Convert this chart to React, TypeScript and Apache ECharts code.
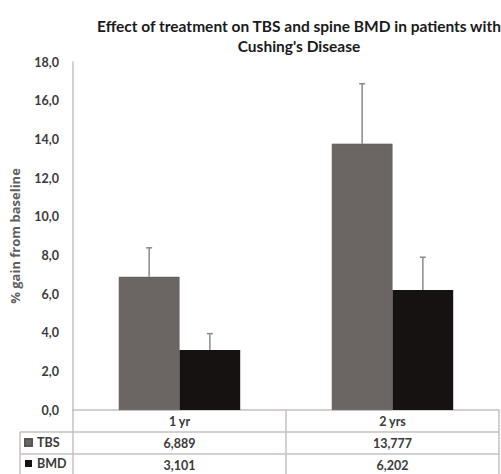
import React, { useEffect, useRef } from "react";
import * as echarts from "echarts";

const categories = ["1 yr", "2 yrs"];
const seriesNames = ["TBS", "BMD"];
const tbsValues = [6.889, 13.777];
const bmdValues = [3.101, 6.202];
const tbsErrors = [1.5, 3.1];
const bmdErrors = [0.85, 1.7];
const yTicks = { min: 0, max: 18, interval: 2 };

const TBS_COLOR = "#6b6663";
const BMD_COLOR = "#151211";
const LINE_COLOR = "#c4c0bf";
const TEXT_COLOR = "#3a3a3a";
const FONT = "Lato, 'Open Sans', sans-serif";
const GAP = 0.43;

const GRID = { left: 72, right: 2, top: 62, bottom: 64 };
const W = 501;
const H = 474;

const fmtVal = (v: number) => v.toFixed(3).replace(".", ",");
const fmtTick = (v: number) => v.toFixed(1).replace(".", ",");

function errorSeries(name: string, values: number[], errors: number[], sign: number) {
  return {
    type: "custom",
    name,
    z: 5,
    silent: true,
    data: values.map((v, i) => [i, v, v + errors[i]]),
    renderItem: (params: any, api: any) => {
      const idx = api.value(0);
      const base = api.coord([idx, api.value(1)]);
      const top = api.coord([idx, api.value(2)]);
      const band = api.size([1, 0])[0];
      const barW = (band * (1 - GAP)) / 2;
      const x = base[0] + (sign * barW) / 2;
      const style = { stroke: "#8e8a89", lineWidth: 1.5 };
      return {
        type: "group",
        children: [
          { type: "line", shape: { x1: x, y1: base[1], x2: x, y2: top[1] }, style },
          { type: "line", shape: { x1: x - 3, y1: top[1], x2: x + 3, y2: top[1] }, style },
        ],
      };
    },
  };
}

export default function App() {
  const ref = useRef<HTMLDivElement>(null);
  useEffect(() => {
    if (!ref.current) return;
    const chart = echarts.init(ref.current, undefined, { renderer: "svg" });
    const plotRight = W - GRID.right;
    const axisY = H - GRID.bottom;
    const row1 = axisY + 22;
    const row2 = axisY + 44;
    const labelStyle = { fontFamily: FONT, fontWeight: "bold" as const, fontSize: 12.5, color: TEXT_COLOR };
    chart.setOption({
      animation: false,
      backgroundColor: "#ffffff",
      title: {
        text: "Effect of treatment on TBS and spine BMD in patients with\nCushing's Disease",
        left: 294,
        top: 11,
        textAlign: "center",
        textStyle: { fontFamily: FONT, fontWeight: "bold", fontSize: 15.5, color: "#1a1a1a", lineHeight: 20 },
      },
      legend: {
        data: seriesNames,
        orient: "vertical",
        left: 24,
        top: row1 + 4,
        padding: 0,
        height: 50,
        itemWidth: 7,
        itemHeight: 7,
        itemGap: 8,
        icon: "rect",
        textStyle: labelStyle,
      },
      grid: { left: GRID.left, right: GRID.right, top: GRID.top, bottom: GRID.bottom },
      xAxis: [
        {
          type: "category",
          data: categories,
          axisLine: { show: true, lineStyle: { color: LINE_COLOR, width: 1.5 } },
          axisTick: { show: true, alignWithLabel: false, length: 64, lineStyle: { color: LINE_COLOR, width: 1.5 } },
          axisLabel: { ...labelStyle, margin: 5 },
        },
        {
          type: "category",
          data: categories,
          position: "bottom",
          offset: 22,
          axisLine: { show: false },
          axisTick: { show: false },
          axisLabel: { ...labelStyle, margin: 5, formatter: (_: string, i: number) => fmtVal(tbsValues[i]) },
        },
        {
          type: "category",
          data: categories,
          position: "bottom",
          offset: 44,
          axisLine: { show: false },
          axisTick: { show: false },
          axisLabel: { ...labelStyle, margin: 5, formatter: (_: string, i: number) => fmtVal(bmdValues[i]) },
        },
      ],
      yAxis: {
        type: "value",
        min: yTicks.min,
        max: yTicks.max,
        interval: yTicks.interval,
        name: "% gain from baseline",
        nameLocation: "middle",
        nameGap: 52,
        nameTextStyle: { fontFamily: "'Open Sans', sans-serif", fontWeight: "bold", fontSize: 13, color: "#606060" },
        axisLine: { show: true, lineStyle: { color: LINE_COLOR, width: 1.5 } },
        axisTick: { show: false },
        splitLine: { show: false },
        axisLabel: { ...labelStyle, margin: 14, formatter: (v: number) => fmtTick(v) },
      },
      series: [
        {
          type: "bar",
          name: seriesNames[0],
          data: tbsValues,
          barGap: "0%",
          barCategoryGap: GAP * 100 + "%",
          itemStyle: { color: TBS_COLOR, borderColor: "#5a5554", borderWidth: 0.5 },
        },
        {
          type: "bar",
          name: seriesNames[1],
          data: bmdValues,
          barGap: "0%",
          barCategoryGap: GAP * 100 + "%",
          itemStyle: { color: BMD_COLOR },
        },
        errorSeries("TBS error", tbsValues, tbsErrors, -1),
        errorSeries("BMD error", bmdValues, bmdErrors, 1),
      ],
      graphic: [
        { type: "line", silent: true, shape: { x1: 20, y1: row1, x2: plotRight, y2: row1 }, style: { stroke: LINE_COLOR, lineWidth: 1.5 } },
        { type: "line", silent: true, shape: { x1: 20, y1: row2, x2: plotRight, y2: row2 }, style: { stroke: LINE_COLOR, lineWidth: 1.5 } },
        { type: "line", silent: true, shape: { x1: 20, y1: row1, x2: 20, y2: H }, style: { stroke: LINE_COLOR, lineWidth: 1.5 } },
      ],
    });
    return () => chart.dispose();
  }, []);
  return <div ref={ref} style={{ position: "fixed", left: 0, top: 0, width: W, height: H }} />;
}
